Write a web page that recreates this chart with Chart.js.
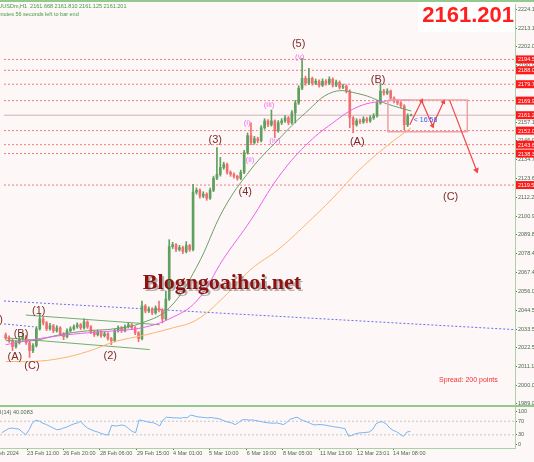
<!DOCTYPE html>
<html>
<head>
<meta charset="utf-8">
<script src="https://cdn.jsdelivr.net/npm/chart.js@4.4.1/dist/chart.umd.min.js"></script>
<style>
  html, body { margin: 0; padding: 0; background: #fdf8f7; overflow: hidden; }
  #wrap { position: relative; width: 534px; height: 462px; overflow: hidden; background: #fdf8f7; }
  #priceChart { position: absolute; left: 0; top: 0; }
  #rsiChart { position: absolute; left: 0; top: 405px; }
  .bar { position: absolute; background: #93c98f; }
</style>
</head>
<body>
<div id="wrap">
  <canvas id="priceChart" width="534" height="412"></canvas>
  <canvas id="rsiChart" width="534" height="57"></canvas>
  <div class="bar" style="left:0;top:0;width:534px;height:2px"></div>
  <div class="bar" style="left:0;top:405px;width:534px;height:2px"></div>
</div>
<script>
// ---- data (one slot ~ 3 hours of XAUUSD H1) ----
const firstOpen = 2030.0;
const closes = [
  2028.4, 2026.6, 2023.1, 2025.4, 2027.8, 2029.0, 2025.4, 2020.7, 2023.7, 2033.7,
  2039.6, 2037.2, 2033.7, 2035.5, 2032.5, 2034.3, 2030.7, 2029.0, 2032.5, 2033.7,
  2034.9, 2036.1, 2034.3, 2037.8, 2034.9, 2031.9, 2030.2, 2031.9, 2029.6, 2030.7,
  2027.8, 2026.6, 2032.5, 2034.3, 2032.5, 2034.9, 2036.1, 2034.3, 2031.3, 2027.8,
  2047.3, 2044.3, 2045.5, 2043.2, 2046.1, 2044.9, 2039.6, 2051.4, 2082.8, 2083.9,
  2081.0, 2082.2, 2079.8, 2083.4, 2081.0, 2115.3, 2116.4, 2112.9, 2114.1, 2111.7,
  2116.4, 2123.5, 2125.9, 2130.0, 2131.8, 2127.1, 2125.9, 2124.7, 2123.5, 2127.1,
  2138.9, 2149.0, 2144.8, 2147.2, 2146.0, 2153.7, 2157.8, 2155.5, 2157.8, 2151.9,
  2156.7, 2157.8, 2159.6, 2156.7, 2162.6, 2168.5, 2177.3, 2183.2, 2180.3, 2183.2,
  2180.3, 2181.5, 2179.1, 2181.5, 2180.3, 2182.7, 2179.1, 2180.9, 2177.9, 2178.5,
  2175.6, 2159.6, 2155.5, 2157.8, 2157.2, 2159.0, 2157.8, 2159.6, 2160.8, 2168.5,
  2175.6, 2174.4, 2175.6, 2171.4, 2169.7, 2168.5, 2166.7, 2155.5, 2160.8, 2161.201
];
const highs = [
  2031.2, 2029.5, 2027.4, 2026.5, 2028.9, 2031.3, 2029.8, 2026.2, 2024.9, 2035.0,
  2042.6, 2040.8, 2038.1, 2036.9, 2036.3, 2035.6, 2035.0, 2031.5, 2033.6, 2034.9,
  2036.0, 2037.3, 2036.9, 2039.6, 2038.5, 2035.6, 2032.7, 2033.0, 2032.6, 2031.9,
  2031.4, 2028.6, 2033.6, 2035.5, 2035.1, 2036.0, 2037.4, 2036.8, 2035.0, 2032.0,
  2050.3, 2048.2, 2046.8, 2046.3, 2047.4, 2050.3, 2045.7, 2056.2, 2086.9, 2085.3,
  2084.6, 2083.5, 2083.0, 2085.7, 2084.1, 2120.0, 2117.8, 2117.2, 2115.5, 2114.9,
  2117.7, 2124.8, 2141.9, 2136.0, 2133.1, 2132.6, 2128.0, 2126.8, 2125.4, 2128.4,
  2140.2, 2150.6, 2156.6, 2148.6, 2148.1, 2155.0, 2159.1, 2158.6, 2164.3, 2158.5,
  2158.0, 2159.2, 2161.0, 2160.4, 2163.9, 2170.0, 2178.8, 2195.1, 2184.5, 2189.2,
  2184.0, 2182.8, 2182.3, 2182.9, 2182.4, 2184.1, 2183.5, 2182.2, 2181.7, 2179.8,
  2179.3, 2176.4, 2160.4, 2159.1, 2158.9, 2160.3, 2159.9, 2160.9, 2162.1, 2169.8,
  2180.3, 2176.6, 2177.0, 2176.3, 2172.2, 2170.5, 2169.3, 2167.5, 2162.0, 2161.81
];
const lows = [
  2027.3, 2025.5, 2020.7, 2022.2, 2024.6, 2026.9, 2024.3, 2016.6, 2019.4, 2022.8,
  2032.9, 2036.0, 2032.6, 2032.8, 2031.4, 2031.7, 2029.6, 2027.2, 2028.2, 2031.6,
  2032.8, 2034.0, 2033.2, 2033.5, 2033.9, 2030.8, 2029.1, 2029.4, 2028.5, 2028.8,
  2026.9, 2024.2, 2025.9, 2031.7, 2031.5, 2031.8, 2034.1, 2033.4, 2030.2, 2026.0,
  2027.0, 2043.2, 2043.4, 2042.1, 2042.4, 2043.8, 2037.2, 2038.8, 2050.6, 2081.6,
  2079.8, 2080.1, 2078.6, 2079.0, 2079.9, 2080.2, 2114.1, 2111.6, 2112.0, 2110.4,
  2110.9, 2115.6, 2122.7, 2124.8, 2128.9, 2126.0, 2124.7, 2123.6, 2122.4, 2122.7,
  2126.3, 2138.0, 2143.6, 2143.9, 2144.7, 2145.2, 2152.8, 2154.3, 2154.6, 2147.8,
  2151.0, 2155.6, 2156.9, 2155.5, 2155.8, 2156.6, 2167.6, 2176.4, 2179.0, 2179.4,
  2179.1, 2179.4, 2178.0, 2178.2, 2179.2, 2179.4, 2178.0, 2178.2, 2176.8, 2177.0,
  2174.5, 2153.7, 2150.7, 2154.6, 2156.1, 2156.3, 2156.7, 2156.9, 2158.7, 2160.0,
  2167.7, 2173.2, 2173.5, 2170.3, 2168.6, 2167.4, 2165.6, 2152.5, 2154.4, 2161.125
];
const rsi = [
  36, 42, 48, 50, 48, 47, 38, 30, 45, 66,
  73, 70, 64, 60, 55, 50, 45, 46, 50, 53,
  58, 62, 65, 70, 58, 50, 45, 41, 38, 34,
  31, 29, 58, 56, 57, 59, 56, 48, 40, 36,
  74, 72, 69, 67, 66, 62, 56, 74, 82, 81,
  80, 80, 79, 81, 80, 88, 86, 83, 82, 81,
  80, 81, 79, 78, 75, 70, 67, 65, 60, 66,
  74, 75, 73, 74, 72, 70, 68, 66, 65, 64,
  65, 63, 60, 66, 76, 79, 82, 76, 71, 68,
  63, 59, 60, 60, 59, 57, 55, 53, 52, 50,
  48, 26, 28, 33, 35, 36, 37, 38, 45, 62,
  68, 68, 62, 50, 43, 39, 32, 25, 38, 40.0083
];

// moving averages, read every 8 slots
const maSlots = [0, 8, 16, 24, 32, 40, 48, 56, 64, 72, 80, 88, 96, 104, 112, 119];
const maFast = [2026.6, 2026.6, 2030.2, 2032.5, 2033.7, 2037.2, 2046.1, 2070.4, 2105.2, 2128.9, 2146.6, 2162.6, 2175.0, 2173.8, 2167.9, 2163.7];
const maMid  = [2024.2, 2027.2, 2029.6, 2031.3, 2032.5, 2034.3, 2039.6, 2050.2, 2075.7, 2098.7, 2124.1, 2143.1, 2156.6, 2166.7, 2169.7, 2170.2];
const maSlow = [2014.2, 2014.2, 2016.0, 2020.1, 2026.0, 2029.6, 2033.7, 2039.0, 2052.6, 2069.2, 2081.0, 2095.8, 2111.7, 2128.9, 2143.0, 2153.7];

const levels = [2194.5, 2188.0, 2179.7, 2169.9, 2152.0, 2143.6, 2138.3, 2119.5];
const lastPrice = 2161.201;
const yTicks = [2224.1, 2213.1, 2202.0, 2190.9, 2179.7, 2168.6, 2157.1, 2146.0, 2134.7, 2123.6, 2112.2,
  2100.9, 2089.8, 2078.4, 2067.4, 2056.0, 2044.5, 2033.5, 2022.5, 2011.1, 2000.0, 1989.0];
const rsiTicks = [0, 30, 70, 100];
const rsiLevels = [30, 70];
const timeSlots = [-4.0, 7.4, 17.9, 28.6, 39.4, 49.9, 60.4, 71.4, 81.9, 92.7, 103.5, 114.0];
const timeLabels = ['22 Feb 2024', '23 Feb 11:00', '26 Feb 20:00', '28 Feb 06:00', '29 Feb 15:00', '4 Mar 01:00',
  '5 Mar 10:00', '6 Mar 19:00', '8 Mar 05:00', '11 Mar 13:00', '12 Mar 23:01', '14 Mar 08:00'];

// trend lines and drawing objects [slot, price]
const channelUpper = [[5.9, 2041.9], [45.2, 2036.1]];
const channelLower = [[-0.5, 2028.4], [42.3, 2021.3]];
const blueLong = [[-0.5, 2050.3], [149.5, 2033.2]];
const blueShort = [[-0.5, 2036.6], [8.2, 2034.9]];
const boxSlots = [112.2, 135.5];
const boxPrices = [2170.2, 2151.3];
const zigzagA = [[118.6, 2155.5], [122.1, 2169.7], [125.3, 2154.9], [128.5, 2169.1]];
const zigzagB = [[130.3, 2170.2], [138.2, 2128.3]];

const waveLabels = [
  ['(5)', -2.8, 2039.0], ['(A)', 2.7, 2017.1], ['(B)', 4.5, 2030.7], ['(C)', 7.7, 2011.8],
  ['(1)', 9.7, 2044.4], ['(2)', 30.7, 2017.7], ['(3)', 61.5, 2146.6], ['(4)', 70.3, 2115.3],
  ['(5)', 86.0, 2203.9], ['(A)', 103.2, 2145.4], ['(B)', 109.3, 2182.1], ['(C)', 130.6, 2112.3]
];
const subLabels = [
  ['(i)', 70.9, 2156.6], ['(ii)', 71.7, 2134.8], ['(iii)', 77.3, 2167.3], ['(iv)', 79.0, 2146.0], ['(v)', 86.3, 2196.2]
];

const SLOT_MIN = -0.5, SLOT_MAX = 149.5;
const PRICE_MIN = 1988.8, PRICE_MAX = 2227.58;
const UP = '#5f9f5f', DOWN = '#f07070';
const AXIS_TEXT = '#4d684d';
const FONT = 'Liberation Sans';

const opens = closes.map((c, i) => i ? closes[i - 1] : firstOpen);
const candleColors = closes.map((c, i) => c >= opens[i] ? UP : DOWN);
const pts = arr => arr.map(p => ({ x: p[0], y: p[1] }));

function plainLine(data, color, extra) {
  return Object.assign({
    type: 'line', data: data, borderColor: color, borderWidth: 1,
    pointRadius: 0, fill: false, tension: 0
  }, extra || {});
}

const datasets = [];
levels.forEach(l => {
  datasets.push(plainLine(pts([[SLOT_MIN, l], [SLOT_MAX, l]]), '#f07878', { borderDash: [2, 2], order: 10 }));
});
datasets.push(plainLine(pts([[SLOT_MIN, lastPrice], [SLOT_MAX, lastPrice]]), '#d3b0b0', { order: 9 }));
datasets.push(plainLine(pts(blueLong), '#6b6bf0', { borderDash: [2, 2], order: 8 }));
datasets.push(plainLine(pts(blueShort), '#6b6bf0', { borderDash: [2, 2], order: 8 }));
datasets.push(plainLine(pts(channelUpper), '#6fae6f', { order: 7 }));
datasets.push(plainLine(pts(channelLower), '#6fae6f', { order: 7 }));
datasets.push({
  type: 'bar', grouped: false, barThickness: 1, order: 6,
  data: closes.map((c, i) => ({ x: i, y: [lows[i], highs[i]] })),
  backgroundColor: candleColors
});
datasets.push({
  type: 'bar', grouped: false, barThickness: 2, order: 5,
  data: closes.map((c, i) => ({ x: i, y: [opens[i], c] })),
  backgroundColor: candleColors
});
datasets.push(plainLine(maSlots.map((s, i) => ({ x: s, y: maSlow[i] })), '#fdb36c', { tension: 0.4, order: 4 }));
datasets.push(plainLine(maSlots.map((s, i) => ({ x: s, y: maMid[i] })), '#ee5fee', { tension: 0.4, order: 4 }));
datasets.push(plainLine(maSlots.map((s, i) => ({ x: s, y: maFast[i] })), '#6a9f6a', { tension: 0.4, order: 4 }));
datasets.push(plainLine(pts([[boxSlots[0], boxPrices[0]], [boxSlots[1], boxPrices[0]], [boxSlots[1], boxPrices[1]],
  [boxSlots[0], boxPrices[1]], [boxSlots[0], boxPrices[0]]]), '#eba3a3', { borderWidth: 1.5, order: 3 }));
datasets.push(plainLine(pts(zigzagA), '#f04848', {
  borderWidth: 1.2, order: 2, pointStyle: 'triangle', pointRadius: [0, 3, 3, 3],
  pointRotation: [0, 27, 156, 25], pointBackgroundColor: '#f04848', pointBorderWidth: 0
}));
datasets.push(plainLine(pts(zigzagB), '#f04848', {
  borderWidth: 1.2, order: 2, pointStyle: 'triangle', pointRadius: [0, 3.5],
  pointRotation: [0, 159], pointBackgroundColor: '#f04848', pointBorderWidth: 0
}));

function zeroPad(s) { s.paddingTop = 0; s.paddingBottom = 0; s.paddingLeft = 0; s.paddingRight = 0; }

const overlay = {
  id: 'overlay',
  afterDraw(chart) {
    const { ctx, scales: { x, y } } = chart;
    ctx.save();
    ctx.textAlign = 'center';
    ctx.textBaseline = 'middle';

    // Elliott wave counts
    ctx.font = '11px ' + FONT;
    ctx.fillStyle = '#7d2b2b';
    waveLabels.forEach(w => ctx.fillText(w[0], x.getPixelForValue(w[1]), y.getPixelForValue(w[2])));
    ctx.font = '8px ' + FONT;
    ctx.fillStyle = '#ee6fee';
    subLabels.forEach(w => ctx.fillText(w[0], x.getPixelForValue(w[1]), y.getPixelForValue(w[2])));

    // countdown
    ctx.textAlign = 'left';
    ctx.font = '7px ' + FONT;
    ctx.fillStyle = '#3a55f0';
    ctx.fillText('< 16:56', x.getPixelForValue(119.8), y.getPixelForValue(2158.4));

    // watermark
    ctx.textAlign = 'center';
    ctx.font = 'bold 22px "Liberation Serif"';
    ctx.fillStyle = 'rgba(90,90,90,0.45)';
    ctx.fillText('Blogngoaihoi.net', 224, 285);
    ctx.fillStyle = '#8c1212';
    ctx.fillText('Blogngoaihoi.net', 222, 283);

    // spread
    ctx.textAlign = 'left';
    ctx.font = '7px ' + FONT;
    ctx.fillStyle = '#f03030';
    ctx.fillText('Spread: 200 points', 439, 380);

    // header
    ctx.font = '5.5px ' + FONT;
    ctx.fillStyle = '#3f9b3f';
    ctx.fillText('XAUUSDm,H1  2161.668 2161.810 2161.125 2161.201', -9, 6);
    ctx.fillText('16 minutes 56 seconds left to bar end', -13, 14);

    // last price box
    ctx.fillStyle = '#ffffff';
    ctx.fillRect(418, 2, 97, 30);
    ctx.textAlign = 'right';
    ctx.font = 'bold 22px ' + FONT;
    ctx.fillStyle = '#ff1f1f';
    ctx.fillText('2161.201', 514, 16);

    // price tags on the axis
    ctx.textAlign = 'left';
    ctx.font = '5.5px ' + FONT;
    levels.concat([lastPrice]).forEach(v => {
      const py = y.getPixelForValue(v);
      ctx.fillStyle = '#ff1a1a';
      ctx.fillRect(516, py - 4, 18, 8);
      ctx.fillStyle = '#ffffff';
      ctx.fillText(v.toFixed(1), 518, py + 0.5);
    });
    ctx.restore();
  }
};

new Chart(document.getElementById('priceChart'), {
  type: 'bar',
  data: { datasets: datasets },
  options: {
    responsive: false, animation: false, events: [],
    layout: { padding: { left: 0, right: 0, top: 0, bottom: 8 } },
    plugins: { legend: { display: false }, tooltip: { enabled: false } },
    scales: {
      x: { type: 'linear', min: SLOT_MIN, max: SLOT_MAX, display: false, offset: false },
      y: {
        type: 'linear', position: 'right', min: PRICE_MIN, max: PRICE_MAX,
        afterBuildTicks: s => { s.ticks = yTicks.map(v => ({ value: v })); },
        afterFit: s => { s.width = 19; zeroPad(s); },
        ticks: { callback: v => v.toFixed(1), autoSkip: false, padding: 1, color: AXIS_TEXT, font: { size: 5.5, family: FONT } },
        grid: { drawOnChartArea: false, tickLength: 2, color: '#557755' },
        border: { color: '#a8d4a4' }
      }
    }
  },
  plugins: [overlay]
});

const rsiOverlay = {
  id: 'rsiOverlay',
  afterDraw(chart) {
    const ctx = chart.ctx;
    ctx.save();
    ctx.font = '5.5px ' + FONT;
    ctx.fillStyle = AXIS_TEXT;
    ctx.textBaseline = 'middle';
    ctx.fillText('RSI(14) 40.0083', -7.6, 7);
    ctx.restore();
  }
};

new Chart(document.getElementById('rsiChart'), {
  type: 'line',
  data: {
    datasets: rsiLevels.map(l => plainLine(pts([[SLOT_MIN, l], [SLOT_MAX, l]]), '#c4c4c4', { borderDash: [2, 2], order: 2 }))
      .concat([plainLine(rsi.map((v, i) => ({ x: i, y: v })), '#74b4f4', { order: 1 })])
  },
  options: {
    responsive: false, animation: false, events: [],
    layout: { padding: { left: 0, right: 0, top: 2, bottom: 0 } },
    plugins: { legend: { display: false }, tooltip: { enabled: false } },
    scales: {
      x: {
        type: 'linear', min: SLOT_MIN, max: SLOT_MAX, offset: false,
        afterBuildTicks: s => { s.ticks = timeSlots.map(v => ({ value: v })); },
        afterFit: s => { s.height = 14; zeroPad(s); },
        ticks: {
          callback: (v, i) => timeLabels[i], align: 'start', autoSkip: false, maxRotation: 0, minRotation: 0,
          padding: 0, color: AXIS_TEXT, font: { size: 5.5, family: FONT }
        },
        grid: { drawOnChartArea: false, tickLength: 2, color: '#557755' },
        border: { color: '#a8d4a4' }
      },
      y: {
        type: 'linear', position: 'right', min: -9, max: 112,
        afterBuildTicks: s => { s.ticks = rsiTicks.map(v => ({ value: v })); },
        afterFit: s => { s.width = 19; zeroPad(s); },
        ticks: { autoSkip: false, padding: 1, color: AXIS_TEXT, font: { size: 5.5, family: FONT } },
        grid: { drawOnChartArea: false, tickLength: 2, color: '#557755' },
        border: { color: '#a8d4a4' }
      }
    }
  },
  plugins: [rsiOverlay]
});
</script>
</body>
</html>
